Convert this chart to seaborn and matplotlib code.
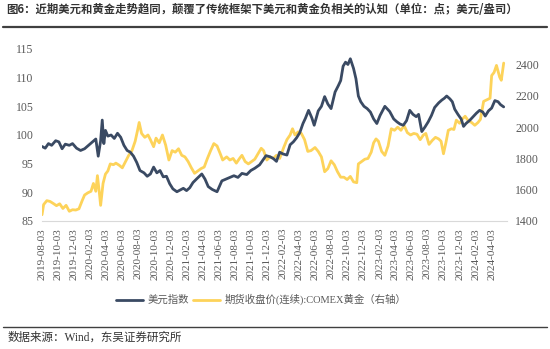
import numpy as np
import pandas as pd
import matplotlib
matplotlib.use("Agg")
import matplotlib.pyplot as plt
from matplotlib.lines import Line2D
import seaborn as sns

# ---------------- data (months elapsed since 2019-08-03, values) ----------------
usd_month = [0.0, 0.4, 0.8, 1.2, 1.7, 2.1, 2.5, 2.9, 3.4, 3.8, 4.3, 4.8, 5.3, 5.8, 6.3, 6.7, 7.0, 7.3,
             7.5, 7.7, 7.9, 8.2, 8.6, 9.0, 9.4, 9.8, 10.2, 10.6, 11.0, 11.4, 11.8, 12.2, 12.7, 13.1,
             13.5, 13.9, 14.3, 14.7, 15.1, 15.5, 15.9, 16.3, 16.8, 17.2, 17.6, 18.0, 18.4, 18.8,
             19.3, 19.9, 20.3, 20.7, 21.2, 21.8, 22.4, 22.9, 23.4, 23.9, 24.4, 24.9, 25.5, 26.0,
             26.5, 27.1, 27.5, 27.9, 28.4, 28.8, 29.2, 29.6, 30.0, 30.5, 30.9, 31.3, 31.7, 32.1,
             32.5, 32.8, 33.2, 33.6, 33.9, 34.4, 34.8, 35.2, 35.6, 36.0, 36.5, 36.9, 37.2, 37.5,
             37.8, 38.1, 38.4, 38.8, 39.1, 39.4, 39.7, 40.1, 40.5, 40.9, 41.3, 41.7, 42.1, 42.7,
             43.3, 43.8, 44.2, 44.6, 45.0, 45.4, 45.8, 46.2, 46.6, 46.9, 47.3, 47.7, 48.1, 48.5,
             48.9, 49.4, 49.8, 50.1, 50.4, 50.8, 51.1, 51.4, 51.8, 52.2, 52.5, 52.8, 53.3, 53.7,
             54.1, 54.5, 54.9, 55.2, 55.6, 56.0, 56.4, 56.8, 57.1, 57.5]
usd_index = [98.0, 97.7, 98.5, 98.2, 99.0, 98.8, 97.6, 98.4, 98.2, 98.5, 97.7, 97.3, 97.6, 98.2, 98.8,
             99.3, 96.3, 99.0, 102.6, 98.5, 100.8, 99.8, 100.0, 99.4, 100.3, 99.6, 98.2, 97.3, 97.0,
             96.3, 95.2, 93.8, 93.4, 92.8, 93.2, 94.4, 93.4, 93.8, 92.7, 92.8, 91.5, 90.6, 90.1, 90.4,
             90.7, 90.3, 90.8, 91.7, 92.4, 93.2, 92.3, 91.0, 90.5, 90.1, 92.0, 92.3, 92.6, 92.9, 92.6,
             93.3, 93.1, 93.8, 94.2, 94.8, 95.6, 96.4, 96.2, 95.9, 95.4, 97.0, 96.7, 96.5, 98.3, 98.8,
             99.5, 100.4, 102.0, 102.9, 104.3, 103.0, 101.7, 104.2, 105.0, 106.7, 105.4, 104.6, 107.5,
             108.6, 109.5, 112.0, 112.7, 112.3, 113.3, 111.6, 109.8, 106.8, 105.8, 105.0, 104.6, 104.0,
             102.8, 102.0, 103.4, 105.0, 104.1, 102.8, 102.3, 101.9, 101.7, 102.5, 104.3, 103.6, 103.2,
             103.6, 100.6, 101.4, 102.3, 103.4, 104.8, 105.6, 106.1, 106.4, 106.8, 106.3, 105.8, 104.5,
             103.6, 102.8, 101.5, 102.0, 102.6, 103.2, 103.8, 104.3, 104.0, 103.3, 104.2, 104.7, 106.0,
             105.8, 105.3, 104.9]

gold_month = [0.0, 0.2, 0.6, 1.0, 1.4, 1.8, 2.2, 2.6, 3.0, 3.4, 3.8, 4.2, 4.6, 5.0, 5.3, 5.7, 6.1, 6.4,
              6.7, 6.9, 7.1, 7.3, 7.6, 7.9, 8.2, 8.5, 8.9, 9.2, 9.6, 10.0, 10.4, 10.8, 11.2, 11.6, 11.9,
              12.1, 12.4, 12.8, 13.2, 13.5, 13.9, 14.2, 14.6, 15.0, 15.4, 15.8, 16.2, 16.6, 17.0, 17.4,
              17.8, 18.2, 18.6, 19.0, 19.4, 19.8, 20.2, 20.6, 21.0, 21.4, 21.8, 22.2, 22.5, 23.0, 23.4,
              23.8, 24.2, 24.6, 24.9, 25.3, 25.7, 26.1, 26.5, 26.9, 27.3, 27.6, 28.0, 28.4, 28.8, 29.2,
              29.6, 30.1, 30.5, 30.9, 31.2, 31.5, 31.9, 32.3, 32.7, 33.1, 33.5, 34.0, 34.4, 34.8, 35.2,
              35.6, 36.0, 36.4, 36.8, 37.2, 37.6, 38.0, 38.4, 38.8, 39.2, 39.4, 39.8, 40.2, 40.6, 41.0,
              41.3, 41.6, 41.9, 42.3, 42.7, 43.1, 43.5, 43.9, 44.3, 44.7, 45.1, 45.5, 45.9, 46.3, 46.7,
              47.1, 47.5, 47.8, 48.2, 48.6, 49.0, 49.4, 49.7, 50.0, 50.3, 50.6, 51.0, 51.3, 51.6, 52.0,
              52.4, 52.7, 53.1, 53.5, 53.9, 54.3, 54.6, 55.0, 55.4, 55.8, 56.0, 56.3, 56.6, 57.0, 57.2,
              57.5]
gold_price = [1440, 1505, 1530, 1525, 1512, 1498, 1510, 1480, 1500, 1462, 1472, 1470, 1478, 1530, 1566,
              1580, 1590, 1640, 1590, 1690, 1600, 1500, 1640, 1700, 1720, 1765, 1760, 1770, 1757, 1740,
              1780, 1820, 1850, 1910, 1980, 2030, 1960, 1935, 1950, 1920, 1875, 1930, 1900, 1950, 1885,
              1790, 1850, 1840, 1862, 1820, 1810, 1780, 1740, 1705, 1720, 1735, 1745, 1800, 1850, 1895,
              1880, 1830, 1790, 1810, 1790, 1800, 1770, 1800, 1820, 1780, 1765, 1780, 1795, 1830, 1865,
              1850, 1790, 1810, 1800, 1820, 1800, 1870, 1920, 1950, 1990, 1950, 1970, 1960, 1920, 1845,
              1850, 1870, 1845, 1810, 1715, 1735, 1785, 1760, 1715, 1680, 1680, 1665, 1685, 1650, 1645,
              1765, 1780, 1795, 1800, 1840, 1900, 1925, 1910, 1845, 1820, 1880, 1990, 1980, 2000, 1980,
              2010, 1965, 1950, 1960, 1955, 1920, 1950, 1960, 1890, 1915, 1935, 1925, 1910, 1830, 1900,
              1980, 1990, 1985, 2045, 2025, 2055, 2070, 2040, 2030, 2012, 2030, 2050, 2165, 2175, 2185,
              2330, 2350, 2395, 2320, 2300, 2410]

start_date = "2019-08-03"
tick_labels = [f"{y}-{m:02d}-03" for y, m in
               [(2019, 8), (2019, 10), (2019, 12)] +
               [(y, m) for y in (2020, 2021, 2022, 2023) for m in (2, 4, 6, 8, 10, 12)] +
               [(2024, 2), (2024, 4)]]

title = "图6：近期美元和黄金走势趋同，颠覆了传统框架下美元和黄金负相关的认知（单位：点；美元/盎司）"
source = "数据来源：Wind，东吴证券研究所"
name_usd = "美元指数"
name_gold = "期货收盘价(连续):COMEX黄金（右轴）"

# ---------------- build frames ----------------
t0 = pd.Timestamp(start_date)
df_usd = pd.DataFrame({"date": [t0 + pd.Timedelta(days=m * 30.44) for m in usd_month],
                       "value": usd_index})
df_gold = pd.DataFrame({"date": [t0 + pd.Timedelta(days=m * 30.44) for m in gold_month],
                        "value": gold_price})

sns.set_style("white")
plt.rcParams["font.family"] = ["Liberation Serif", "Noto Sans CJK SC", "DejaVu Sans"]

NAVY = "#3a4a63"
GOLD = "#fdd35a"
TXT = "#595959"

fig = plt.figure(figsize=(5.5, 3.49), dpi=100)
ax = fig.add_axes([0.0764, 0.3668, 0.8455, 0.4928])
ax2 = ax.twinx()

sns.lineplot(data=df_gold, x="date", y="value", ax=ax2, color=GOLD, lw=2.0, zorder=2)
sns.lineplot(data=df_usd, x="date", y="value", ax=ax, color=NAVY, lw=2.0, zorder=3)
ax.set_zorder(ax2.get_zorder() + 1)
ax.patch.set_visible(False)

ax.set_ylim(85, 115)
ax.set_yticks(np.arange(85, 116, 5))
ax2.set_ylim(1400, 2500)
ax2.set_yticks(np.arange(1400, 2401, 200))

ax.set_xlim(pd.Timestamp("2019-08-03"), pd.Timestamp("2024-05-31"))
ticks = [pd.Timestamp(s) for s in tick_labels]
ax.set_xticks(ticks)
ax.set_xticklabels(tick_labels, rotation=90)

for a in (ax, ax2):
    a.set_xlabel("")
    a.set_ylabel("")
    for s in a.spines.values():
        s.set_visible(False)
    a.grid(False)
ax.spines["bottom"].set_visible(True)
ax.spines["bottom"].set_color("#d9d9d9")
ax.tick_params(axis="x", length=3, color="#d9d9d9", labelsize=8, labelcolor=TXT, pad=2)
ax.tick_params(axis="y", length=0, labelsize=8.5, labelcolor=TXT, pad=6)
ax2.tick_params(axis="y", length=0, labelsize=8.5, labelcolor=TXT, pad=6)

# title and rules
fig.text(0.012, 0.972, title, fontsize=8.2, fontweight="bold", color="#333333",
         ha="left", va="center", family=["Noto Sans CJK SC", "DejaVu Sans"])
fig.add_artist(Line2D([0.006, 0.994], [0.922, 0.922], color="#404040", lw=1.6))
fig.add_artist(Line2D([0.006, 0.994], [0.063, 0.063], color="#404040", lw=1.0))
fig.text(0.014, 0.031, source, fontsize=8.3, color="#333333", ha="left", va="center")

handles = [Line2D([], [], color=NAVY, lw=2), Line2D([], [], color=GOLD, lw=2)]
fig.legend(handles, [name_usd, name_gold], loc="center", bbox_to_anchor=(0.475, 0.141),
           ncol=2, frameon=False, fontsize=7.5, handlelength=2.6, handletextpad=0.4,
           columnspacing=0.4, labelcolor=TXT)

fig.savefig("out.png", dpi=100)
